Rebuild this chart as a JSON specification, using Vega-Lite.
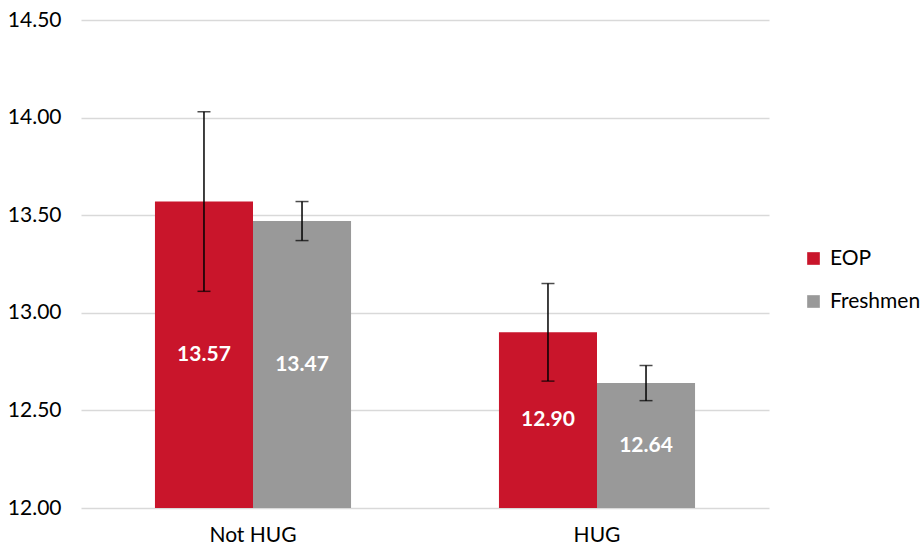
{
  "$schema": "https://vega.github.io/schema/vega-lite/v6.json",
  "width": 688,
  "height": 488,
  "padding": {"left": 7, "top": 9, "right": 5, "bottom": 5},
  "background": "white",
  "config": {
    "view": {"stroke": null},
    "font": "Lato",
    "axis": {"labelFont": "Lato", "labelColor": "#000000"}
  },
  "data": {
    "values": [
      {"group": "Not HUG", "series": "EOP", "mean": 13.57, "lo": 13.11, "hi": 14.03},
      {"group": "Not HUG", "series": "Freshmen", "mean": 13.47, "lo": 13.37, "hi": 13.57},
      {"group": "HUG", "series": "EOP", "mean": 12.90, "lo": 12.65, "hi": 13.15},
      {"group": "HUG", "series": "Freshmen", "mean": 12.64, "lo": 12.55, "hi": 12.73}
    ]
  },
  "encoding": {
    "x": {
      "field": "group", "type": "nominal", "sort": ["Not HUG", "HUG"],
      "scale": {"paddingInner": 0.43, "paddingOuter": 0.215},
      "axis": {"title": null, "labelAngle": 0, "domain": false, "ticks": false, "labelFontSize": 21, "labelPadding": 16}
    },
    "xOffset": {"field": "series", "type": "nominal", "sort": ["EOP", "Freshmen"], "scale": {"paddingInner": 0, "paddingOuter": 0}}
  },
  "layer": [
    {
      "mark": {"type": "bar"},
      "encoding": {
        "y": {
          "field": "mean", "type": "quantitative",
          "scale": {"domain": [12, 14.5], "zero": false, "nice": false},
          "axis": {"title": null, "values": [12, 12.5, 13, 13.5, 14, 14.5], "format": ".2f", "domain": false, "ticks": false, "labelFontSize": 21, "labelPadding": 20, "gridColor": "#d9d9d9", "gridWidth": 1.5}
        },
        "y2": {"datum": 12},
        "color": {
          "field": "series", "type": "nominal",
          "scale": {"domain": ["EOP", "Freshmen"], "range": ["#C9152B", "#999999"]},
          "legend": {"title": null, "orient": "none", "legendX": 722, "legendY": 228, "symbolType": "square", "symbolSize": 160, "symbolStrokeWidth": 0, "labelFontSize": 21, "labelFont": "Lato", "rowPadding": 21, "labelOffset": 6}
        }
      }
    },
    {
      "mark": {"type": "rule", "color": "#000000", "strokeWidth": 1.5},
      "encoding": {
        "y": {"field": "lo", "type": "quantitative"},
        "y2": {"field": "hi"}
      }
    },
    {
      "mark": {"type": "tick", "color": "#000000", "thickness": 1.5, "size": 13, "orient": "horizontal"},
      "encoding": {"y": {"field": "lo", "type": "quantitative"}}
    },
    {
      "mark": {"type": "tick", "color": "#000000", "thickness": 1.5, "size": 13, "orient": "horizontal"},
      "encoding": {"y": {"field": "hi", "type": "quantitative"}}
    },
    {
      "transform": [{"calculate": "(datum.mean + 12) / 2", "as": "mid"}],
      "mark": {"type": "text", "color": "white", "fontWeight": "bold", "fontSize": 21, "font": "Lato", "baseline": "middle", "letterSpacing": 2.5},
      "encoding": {
        "y": {"field": "mid", "type": "quantitative"},
        "text": {"field": "mean", "type": "quantitative", "format": ".2f"}
      }
    }
  ]
}
